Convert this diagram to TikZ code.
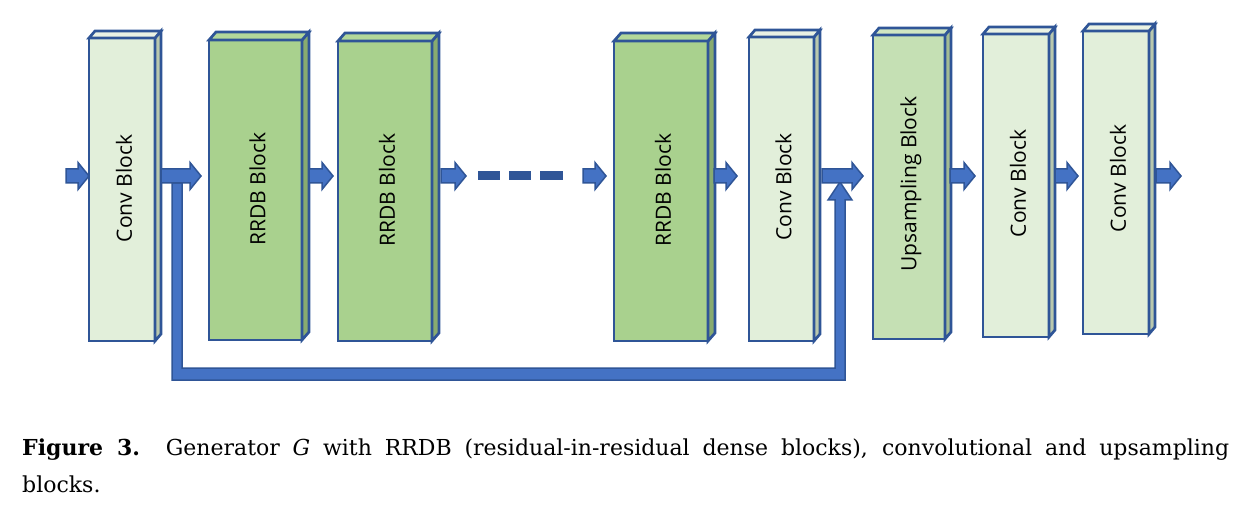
\documentclass[tikz,border=0pt]{standalone}
\usepackage{fontspec}
\newfontfamily\blockfont{Open Sans}
\newfontfamily\capfont{DejaVu Serif}
\usetikzlibrary{calc}
\definecolor{bord}{HTML}{2F5597}
\definecolor{arrfill}{HTML}{4472C4}
\definecolor{convfront}{HTML}{E2EFDA}
\definecolor{convside}{HTML}{B9C8AE}
\definecolor{convtop}{HTML}{EAF2E4}
\definecolor{rrdbfront}{HTML}{A9D18E}
\definecolor{rrdbside}{HTML}{88AB70}
\definecolor{rrdbtop}{HTML}{B3D89A}
\definecolor{upfront}{HTML}{C5E0B4}
\definecolor{upside}{HTML}{A3BC94}
\definecolor{uptop}{HTML}{D0E6C2}
\tikzset{
  face/.style={draw=bord, line width=2.7pt, line join=miter, inner sep=0pt, outer sep=0pt, rectangle},
  blocktext/.style={rotate=90, font=\blockfont\fontsize{21}{25}\selectfont, text=black},
  fatarrow/.style={fill=arrfill, draw=bord, line width=1.5pt, line join=miter},
  dashbar/.style={fill=bord, draw=none},
  captext/.style={anchor=base west, inner sep=0pt, font=\capfont\fontsize{22}{27}\selectfont},
}
% #1 name, #2 left, #3 top, #4 right, #5 bottom, #6 front, #7 side, #8 top colour, #9 depth x
\newcommand\myblock[9]{%
  \node[face, fill=#6, minimum width={(#4-#2)*1pt}, minimum height={(#5-#3)*1pt}] (#1) at ({(#2+#4)/2},{(#3+#5)/2}) {};
  \draw[face, fill=#7] (#1.north east) -- ++(#9,-#9-1) -- ($(#1.south east)+(#9,-#9-1)$) -- (#1.south east) -- cycle;
  \draw[face, fill=#8] (#1.north west) -- ++(#9,-#9-1) -- ($(#1.north east)+(#9,-#9-1)$) -- (#1.north east) -- cycle;
}
% horizontal block arrow from #1 to #2
\newcommand\harrow[2]{%
  \draw[fatarrow] ($(#1)+(0,-7)$) -- ($(#2)+(-11,-7)$) -- ($(#2)+(-11,-13.5)$) -- (#2) -- ($(#2)+(-11,13.5)$) -- ($(#2)+(-11,7)$) -- ($(#1)+(0,7)$) -- cycle;
}
\begin{document}
\begin{tikzpicture}[x=1pt,y=-1pt]
\useasboundingbox (0,0) rectangle (1254,513);
\fill[white] (0,0) rectangle (1254,513);
\coordinate (ax) at (0,176);

% blocks
\myblock{c1}{89}{38}{155}{341}{convfront}{convside}{convtop}{6}
\myblock{r1}{209}{40}{302}{340}{rrdbfront}{rrdbside}{rrdbtop}{7}
\myblock{r2}{338}{41}{432}{341}{rrdbfront}{rrdbside}{rrdbtop}{7}
\myblock{r3}{614}{41}{708}{341}{rrdbfront}{rrdbside}{rrdbtop}{7}
\myblock{c2}{749}{37}{814}{341}{convfront}{convside}{convtop}{6}
\myblock{up}{873}{35}{945}{339}{upfront}{upside}{uptop}{6}
\myblock{c3}{983}{34}{1049}{337}{convfront}{convside}{convtop}{6}
\myblock{c4}{1083}{31}{1149}{334}{convfront}{convside}{convtop}{6}

\node[blocktext] (t1) at ($(c1)+(2,-1)$) {Conv Block};
\node[blocktext] (t2) at ($(r1)+(2,-1)$) {RRDB Block};
\node[blocktext] (t3) at ($(r2)+(2,-1)$) {RRDB Block};
\node[blocktext] (t4) at ($(r3)+(2,-1)$) {RRDB Block};
\node[blocktext] (t5) at ($(c2)+(2,-2)$) {Conv Block};
\node[blocktext] (t6) at ($(up)+(2,-3)$) {Upsampling Block};
\node[blocktext] (t7) at ($(c3)+(2,-2)$) {Conv Block};
\node[blocktext] (t8) at ($(c4)+(2,-4)$) {Conv Block};

% skip connection
\coordinate (skipL) at (177,176);
\coordinate (skipR) at (840,182);
\draw[fatarrow] ($(skipL)+(-5,7)$) -- (172,380) -- (845,380) -- ($(skipR)+(5,18)$) -- ($(skipR)+(12,18)$) -- (skipR) -- ($(skipR)+(-12,18)$) -- ($(skipR)+(-5,18)$) -- (835,368) -- (182,368) -- ($(skipL)+(5,7)$) -- cycle;

% arrows
\coordinate (in) at (66,176);
\coordinate (out) at (1181,176);
\harrow{in}{c1.west |- ax}
\harrow{$(c1.east |- ax)+(6,0)$}{$(r1.west |- ax)+(-8,0)$}
\harrow{$(r1.east |- ax)+(7,0)$}{$(r2.west |- ax)+(-5,0)$}
\harrow{$(r2.east |- ax)+(9,0)$}{$(r2.east |- ax)+(34,0)$}
\harrow{$(r3.west |- ax)+(-31,0)$}{$(r3.west |- ax)+(-8,0)$}
\harrow{$(r3.east |- ax)+(6,0)$}{$(c2.west |- ax)+(-12,0)$}
\harrow{$(c2.east |- ax)+(8,0)$}{$(up.west |- ax)+(-10,0)$}
\harrow{$(up.east |- ax)+(5,0)$}{$(c3.west |- ax)+(-8,0)$}
\harrow{$(c3.east |- ax)+(6,0)$}{$(c4.west |- ax)+(-5,0)$}
\harrow{$(c4.east |- ax)+(7,0)$}{out}

% dashes
\fill[dashbar] (478,171.5) rectangle (500,180.5);
\fill[dashbar] (509,171.5) rectangle (531,180.5);
\fill[dashbar] (540,171.5) rectangle (563,180.5);

% caption
\node[captext] (cap1) at (22,455)
  {\hbox to 1207pt{\textbf{Figure 3.}\ \ Generator \textit{G} with RRDB (residual-in-residual dense blocks), convolutional and upsampling}};
\node[captext] (cap2) at (22,492) {blocks.};
\end{tikzpicture}
\end{document}
